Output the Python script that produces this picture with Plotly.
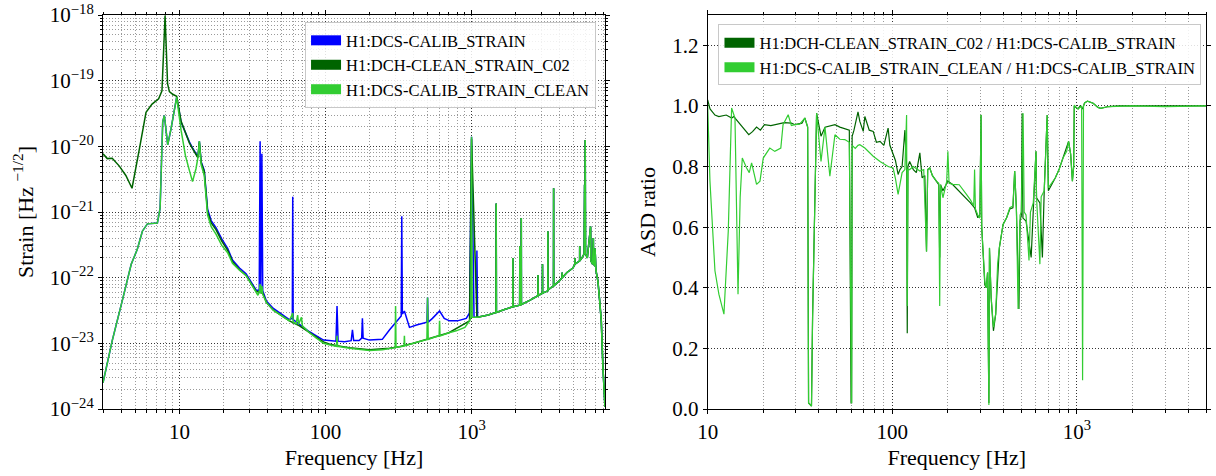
import plotly.graph_objects as go

# ---------------- data ----------------
# shared high-frequency part (all three ASDs coincide above ~1.1 kHz)
hf_freq = [1100, 1300, 1470, 1475, 1480, 1700, 1915, 1919, 1923, 2024, 2135, 2140, 2145, 2185, 2190, 2195,
           2500, 2845, 2850, 2855, 2923, 3055, 3060, 3065, 3330, 3333, 3336, 3640, 3646, 3652, 4000, 4165,
           4170, 4175, 4500, 4940, 5095, 5100, 5105, 5495, 5500, 5505, 5700, 5900, 5940, 5960, 6000, 6030,
           6200, 6530, 6560, 6740, 6820, 6850, 7000, 7010, 7100, 7330, 7530, 7730, 7930, 8192]
hf_asd = [2.5e-23, 2.7e-23, 2.95e-23, 1.35e-21, 2.95e-23, 3.3e-23, 3.6e-23, 2.0e-22, 3.6e-23, 3.7e-23, 3.8e-23,
          3.0e-22, 3.8e-23, 3.9e-23, 8.1e-22, 3.9e-23, 4.5e-23, 5.3e-23, 1.1e-22, 5.3e-23, 5.5e-23, 5.8e-23,
          1.6e-22, 5.8e-23, 6.3e-23, 5.1e-22, 6.5e-23, 7.5e-23, 2.3e-21, 7.5e-23, 9.0e-23, 1.0e-22, 1.2e-22,
          1.0e-22, 1.2e-22, 1.4e-22, 1.6e-22, 2.0e-22, 1.6e-22, 1.8e-22, 3.0e-22, 1.8e-22, 2.0e-22, 2.3e-22,
          2.6e-21, 2.3e-22, 1.25e-20, 2.3e-22, 2.0e-22, 6.0e-22, 1.8e-22, 1.6e-22, 4.0e-22, 1.6e-22, 1.5e-22,
          2.8e-22, 1.3e-22, 8.9e-23, 4.5e-23, 2.2e-23, 4.4e-24, 1.07e-24]

calib_freq = [3.0, 3.47, 4.07, 4.68, 5.15, 5.58, 6.04, 7.07, 7.38, 7.69, 7.89, 8.32, 8.77, 9.58, 10.27, 11.0,
              11.7, 12.3, 13.0, 13.4, 13.7, 14.1, 14.8, 15.6, 16.5, 17.8, 19.5, 21.4, 23.1, 25.8, 28.6, 31.0,
              33.5, 35.2, 35.7, 36.1, 36.7, 37.2, 39.4, 44.0, 50.7, 56.6, 59.3, 59.7, 60.1, 66.4, 77.7, 86.7,
              97, 106, 118, 120, 122, 135, 150, 153, 156, 170, 177, 179, 181, 200, 245, 274, 305, 330, 333,
              336, 347, 376, 420, 461, 495, 500, 505, 540, 604, 650, 707, 800, 920, 969, 1000, 1040, 1085,
              1088, 1092]
calib_asd = [2.5e-24, 1.1e-23, 4.5e-23, 1.6e-22, 2.7e-22, 5.1e-22, 6.6e-22, 6.8e-22, 1.14e-21, 2.35e-20,
             2.95e-20, 1.05e-20, 1.86e-20, 5.6e-20, 2.35e-20, 1.6e-20, 1.17e-20, 9.5e-21, 7.7e-21, 6.9e-21,
             1.2e-20, 5.8e-21, 4.3e-21, 1.1e-21, 7.4e-22, 5.8e-22, 3.9e-22, 2.8e-22, 1.85e-22, 1.4e-22,
             1.15e-22, 8.5e-23, 6.5e-23, 6.4e-23, 1.2e-20, 7.0e-23, 7.7e-21, 6.3e-23, 4.4e-23, 3.4e-23,
             2.7e-23, 2.3e-23, 2.4e-23, 1.7e-21, 2.3e-23, 1.95e-23, 1.5e-23, 1.3e-23, 1.12e-23, 1.1e-23,
             1.08e-23, 3.7e-23, 1.08e-23, 1.06e-23, 1.1e-23, 1.6e-23, 1.1e-23, 1.1e-23, 1.2e-23, 2.4e-23,
             1.2e-23, 1.12e-23, 1.15e-23, 1.6e-23, 2.1e-23, 2.6e-23, 8.6e-22, 2.8e-23, 3.1e-23, 1.75e-23,
             1.9e-23, 2.0e-23, 2.1e-23, 5.0e-23, 2.1e-23, 2.4e-23, 3.1e-23, 2.4e-23, 2.2e-23, 2.2e-23,
             2.4e-23, 2.9e-23, 1.4e-20, 2.5e-23, 2.5e-23, 2.6e-22, 2.5e-23]

c02_freq = [3.0, 3.21, 3.47, 3.88, 4.3, 4.74, 5.32, 5.91, 6.5, 7.21, 7.6, 7.98, 8.3, 8.54, 9.0, 9.58, 10.27,
            11.0, 11.7, 12.3, 13.0, 13.4, 13.7, 14.1, 14.8, 15.6, 16.5, 17.8, 19.5, 21.4, 23.1, 25.8, 28.6,
            31.0, 33.5, 37.2, 39.4, 44.0, 50.7, 56.6, 66.4, 77.7, 86.7, 97, 106, 120, 146, 200, 274, 321,
            400, 500, 700, 969, 1000, 1088]
c02_asd = [7.7e-21, 6.5e-21, 6.6e-21, 5.0e-21, 3.6e-21, 2.3e-21, 9.1e-21, 3.3e-20, 4.4e-20, 5.3e-20, 7.0e-20,
           9.8e-19, 9.0e-20, 6.8e-20, 6.2e-20, 5.8e-20, 2.4e-20, 1.55e-20, 1.13e-20, 9.2e-21, 7.4e-21,
           6.7e-21, 1.15e-20, 5.6e-21, 4.1e-21, 1.0e-21, 6.8e-22, 5.4e-22, 3.6e-22, 2.6e-22, 1.75e-22,
           1.32e-22, 1.08e-22, 8.0e-23, 6.2e-23, 5.8e-23, 4.2e-23, 3.2e-23, 2.6e-23, 2.2e-23, 1.85e-23,
           1.45e-23, 1.25e-23, 1.05e-23, 9.8e-24, 9.2e-24, 8.6e-24, 8.0e-24, 8.4e-24, 8.9e-24, 1.0e-23,
           1.15e-23, 1.45e-23, 2.2e-23, 1.3e-20, 2.5e-23]

clean_freq = [3.0, 3.47, 4.07, 4.68, 5.15, 5.58, 6.04, 7.07, 7.38, 7.69, 7.89, 8.32, 8.77, 9.58, 10.27, 11.0,
              11.7, 12.3, 13.0, 13.4, 13.7, 14.1, 14.8, 15.6, 16.5, 17.8, 19.5, 21.4, 23.1, 25.8, 28.6, 31.0,
              33.5, 34.5, 35.2, 35.7, 36.1, 36.7, 37.2, 39.4, 44.0, 50.7, 56.6, 59.7, 60.1, 63.0, 64.5, 65.5,
              68.5, 69.5, 77.7, 86.7, 97, 106, 119, 120, 121, 146, 200, 245, 274, 300, 302, 304, 321, 345,
              347, 349, 400, 461, 495, 500, 505, 560, 600, 604, 608, 700, 785, 900, 969, 990, 1000, 1010, 1088]
clean_asd = [2.5e-24, 1.1e-23, 4.5e-23, 1.6e-22, 2.7e-22, 5.1e-22, 6.6e-22, 6.8e-22, 1.14e-21, 2.35e-20,
             2.95e-20, 1.05e-20, 1.86e-20, 5.6e-20, 1.76e-20, 7.2e-21, 4.3e-21, 2.9e-21, 4.6e-21, 6.8e-21,
             1.2e-20, 5.2e-21, 3.6e-21, 9.0e-22, 6.0e-22, 4.6e-22, 3.1e-22, 2.4e-22, 1.65e-22, 1.3e-22,
             1.08e-22, 8.0e-23, 6.2e-23, 5.4e-23, 6.0e-23, 8.0e-23, 5.8e-23, 7.5e-23, 5.6e-23, 4.2e-23,
             3.2e-23, 2.6e-23, 2.2e-23, 2.9e-23, 2.1e-23, 2.0e-23, 2.7e-23, 1.95e-23, 2.5e-23, 1.85e-23,
             1.45e-23, 1.2e-23, 1.0e-23, 9.5e-24, 9.0e-24, 1.3e-23, 9.0e-24, 8.4e-24, 7.8e-24, 8.0e-24,
             8.4e-24, 8.6e-24, 3.7e-23, 8.7e-24, 8.9e-24, 9.1e-24, 1.3e-23, 9.2e-24, 1.0e-23, 1.1e-23,
             1.15e-23, 5.0e-23, 1.15e-23, 1.25e-23, 1.3e-23, 2.2e-23, 1.3e-23, 1.45e-23, 1.55e-23, 1.75e-23,
             2.2e-23, 2.5e-23, 1.4e-20, 2.5e-23, 2.5e-23]

ratio_c02_freq = [10.0, 10.3, 10.95, 11.5, 12.6, 13.5, 13.85, 14.5, 15.5, 16.7, 17.5, 18.4, 19.3, 20.3, 22, 24.4,
                  26, 28.4, 29.7, 32.4, 33.6, 34.8, 35.2, 36.5, 37.0, 38.9, 40, 41.1, 43.2, 45.9, 48.9, 52,
                  55.3, 58.5, 59.8, 60.2, 60.6, 62, 65.2, 66.7, 69.6, 71, 75, 78.8, 82, 85.8, 90, 94.9, 97,
                  101, 104, 107.5, 110, 113, 117, 119.5, 120.5, 121.5, 124.1, 130, 135, 141, 145, 150, 153.2,
                  155.5, 159.5, 165, 173.5, 178.5, 180.6, 182.5, 188, 200, 212.8, 230.4, 251, 265, 279, 290.5,
                  298, 302.4, 305, 311, 317, 323, 328, 333.5, 336, 343, 353, 363, 372, 380, 398, 416, 433, 450,
                  460, 470, 485, 492, 500, 505, 510, 530, 565, 580, 600, 604, 630, 650, 665, 690, 700, 764,
                  800, 840, 901, 925, 945, 960, 967, 990, 1014, 1040, 1073, 1100, 1141, 1224, 1300, 1346,
                  1480, 1700, 2000, 3000, 4000, 5000]
ratio_c02 = [1.02, 0.99, 0.97, 0.965, 0.97, 0.96, 0.965, 0.95, 0.93, 0.905, 0.915, 0.93, 0.92, 0.938, 0.935,
             0.94, 0.945, 0.943, 0.938, 0.943, 0.96, 0.93, 0.02, 0.01, 0.3, 0.976, 0.94, 0.9, 0.93, 0.935,
             0.938, 0.93, 0.925, 0.92, 0.02, 0.02, 0.9, 0.92, 0.98, 0.949, 0.916, 0.965, 0.92, 0.916, 0.88,
             0.883, 0.87, 0.927, 0.87, 0.839, 0.82, 0.774, 0.79, 0.8, 0.92, 0.8, 0.25, 0.8, 0.817, 0.79, 0.78,
             0.845, 0.763, 0.77, 0.52, 0.79, 0.795, 0.77, 0.752, 0.74, 0.5, 0.74, 0.72, 0.752, 0.74, 0.719,
             0.697, 0.68, 0.664, 0.631, 0.64, 0.97, 0.6, 0.51, 0.41, 0.4, 0.45, 0.02, 0.53, 0.368, 0.258,
             0.313, 0.45, 0.532, 0.609, 0.631, 0.66, 0.664, 0.785, 0.66, 0.33, 0.62, 0.64, 0.976, 0.63, 0.62,
             0.5, 0.66, 0.85, 0.697, 0.68, 0.5, 0.72, 0.97, 0.72, 0.763, 0.79, 0.828, 0.883, 0.84, 0.752, 0.8,
             1.0, 0.995, 0.99, 1.0, 0.99, 1.01, 1.016, 1.009, 0.995, 0.992, 0.998, 1.0, 1.0, 1.0, 1.0, 1.0]

ratio_clean_freq = [10.0, 10.29, 10.95, 11.5, 12.25, 12.93, 13.48, 14.06, 14.3, 14.6, 15.0, 15.4, 16.25, 16.8,
                    17.3, 18.0, 18.4, 19.2, 20.0, 21.7, 23.1, 24.9, 25.6, 27.3, 28.4, 29.7, 31.5, 33.6, 34.8,
                    35.2, 36.5, 37.0, 38.9, 41.1, 43.2, 45.9, 48.9, 52, 55.3, 58.5, 59.8, 60.2, 60.6, 63,
                    65.2, 66.7, 71, 75, 78.8, 85.8, 90, 94.9, 101, 104, 107.5, 111, 113, 117, 119.5, 120.5,
                    121.5, 124.1, 130, 141, 148, 153.2, 155.5, 159.5, 165, 173.5, 178.5, 180.6, 182.5, 188,
                    197, 200, 203, 212.8, 230.4, 251, 265, 276, 279, 282, 290.5, 298, 302.4, 305, 311, 317,
                    323, 328, 333.5, 336, 343, 353, 363, 372, 380, 398, 416, 433, 450, 460, 470, 480, 492,
                    500, 511, 518, 530, 550, 560, 580, 600, 604, 630, 640, 665, 690, 700, 764, 800, 840, 880,
                    901, 925, 945, 960, 967, 990, 1014, 1060, 1073, 1085, 1100, 1141, 1224, 1300, 1346, 1480,
                    1700, 2000, 3000, 4000, 5000]
ratio_clean = [1.004, 0.752, 0.456, 0.379, 0.313, 0.587, 0.993, 0.96, 0.7, 0.379, 0.7, 0.828, 0.795, 0.78,
               0.812, 0.76, 0.741, 0.752, 0.828, 0.861, 0.85, 0.861, 0.938, 0.971, 0.935, 0.938, 0.94, 0.96,
               0.93, 0.02, 0.01, 0.3, 0.976, 0.817, 0.93, 0.768, 0.905, 0.89, 0.889, 0.88, 0.02, 0.02, 0.87,
               0.86, 0.87, 0.872, 0.861, 0.845, 0.834, 0.817, 0.81, 0.8, 0.795, 0.76, 0.708, 0.75, 0.78, 0.79,
               0.97, 0.34, 0.79, 0.79, 0.8, 0.785, 0.79, 0.52, 0.79, 0.795, 0.77, 0.752, 0.745, 0.34, 0.74,
               0.697, 0.75, 0.85, 0.745, 0.741, 0.74, 0.71, 0.69, 0.67, 0.79, 0.66, 0.64, 0.63, 0.971, 0.6,
               0.52, 0.42, 0.4, 0.45, 0.013, 0.532, 0.368, 0.27, 0.313, 0.48, 0.532, 0.609, 0.631, 0.664,
               0.67, 0.785, 0.66, 0.33, 0.64, 0.65, 0.976, 0.65, 0.64, 0.49, 0.65, 0.68, 0.85, 0.7, 0.478,
               0.7, 0.72, 0.97, 0.73, 0.763, 0.79, 0.828, 0.85, 0.883, 0.84, 0.752, 0.8, 1.003, 0.995, 0.99,
               1.0, 0.095, 1.0, 1.01, 1.016, 1.009, 0.995, 0.992, 0.998, 1.0, 1.0, 0.998, 1.0, 1.0]

asd_labels = ["H1:DCS-CALIB_STRAIN", "H1:DCH-CLEAN_STRAIN_C02", "H1:DCS-CALIB_STRAIN_CLEAN"]
ratio_labels = ["H1:DCH-CLEAN_STRAIN_C02 / H1:DCS-CALIB_STRAIN",
                "H1:DCS-CALIB_STRAIN_CLEAN / H1:DCS-CALIB_STRAIN"]
asd_colors = ["#0000ff", "#006400", "#32cd32"]
ratio_colors = ["#006400", "#32cd32"]

# ---------------- figure ----------------
FONT = "Liberation Serif"
fig = go.Figure()

asd_sets = [(calib_freq + hf_freq, calib_asd + hf_asd),
            (c02_freq + hf_freq, c02_asd + hf_asd),
            (clean_freq + hf_freq, clean_asd + hf_asd)]
for (fx, fy), col in zip(asd_sets, asd_colors):
    fig.add_trace(go.Scatter(x=fx, y=fy, mode="lines", line=dict(color=col, width=1.5),
                             showlegend=False, xaxis="x", yaxis="y", hoverinfo="skip"))
for (fx, fy), col in zip([(ratio_c02_freq, ratio_c02), (ratio_clean_freq, ratio_clean)], ratio_colors):
    fig.add_trace(go.Scatter(x=fx, y=fy, mode="lines", line=dict(color=col, width=1.2),
                             showlegend=False, xaxis="x2", yaxis="y2", hoverinfo="skip"))

# legend-only entries (rectangular patches)
for lab, col in zip(asd_labels, asd_colors):
    fig.add_trace(go.Scatter(x=[None], y=[None], mode="lines", name=lab, line=dict(color=col, width=12),
                             xaxis="x", yaxis="y", legend="legend"))
for lab, col in zip(ratio_labels, ratio_colors):
    fig.add_trace(go.Scatter(x=[None], y=[None], mode="lines", name=lab, line=dict(color=col, width=12),
                             xaxis="x2", yaxis="y2", legend="legend2"))

minor_x1 = [k * 10 ** n for n in range(0, 4) for k in range(2, 10)]
minor_y1 = [k * 10.0 ** n for n in range(-24, -18) for k in range(2, 10)]

grid_major = dict(showgrid=True, gridcolor="#333333", gridwidth=0.8, griddash="1px,2px")
minor_style = dict(ticks="outside", ticklen=2.5, tickcolor="black", showgrid=True,
                   gridcolor="#9a9a9a", gridwidth=0.8, griddash="1px,2px")
axis_common = dict(showline=True, linecolor="black", linewidth=1, mirror="ticks", ticks="outside",
                   ticklen=4, tickcolor="black", zeroline=False, automargin=False,
                   ticklabeloverflow="allow",
                   tickfont=dict(family=FONT, size=21, color="black"))
title_font = dict(family=FONT, size=22, color="black")

fig.update_layout(
    width=1216, height=476,
    margin=dict(l=103, r=10, t=15, b=67),
    paper_bgcolor="white", plot_bgcolor="white",
    font=dict(family=FONT, color="black"),
    xaxis=dict(domain=[0, 0.4551], type="log", range=[0.4771, 3.9134],
               tickmode="array", tickvals=[10, 100, 1000], ticktext=["10", "100", "10<sup>3</sup>"],
               minor=dict(tickmode="array", tickvals=minor_x1, **minor_style),
               title=dict(text="Frequency [Hz]", font=title_font, standoff=6),
               anchor="y", **grid_major, **axis_common),
    yaxis=dict(domain=[0, 1], type="log", range=[-24, -18],
               tickmode="array", tickvals=[10.0 ** e for e in range(-24, -17)],
               ticktext=["10<sup>−%d</sup>" % (-e) for e in range(-24, -17)],
               minor=dict(tickmode="array", tickvals=minor_y1, **minor_style),
               title=dict(text="Strain [Hz <sup>−1/2</sup>]", font=title_font, standoff=10),
               anchor="x", **grid_major, **axis_common),
    xaxis2=dict(domain=[0.5482, 1], type="log", range=[1, 3.69897],
                tickmode="array", tickvals=[10, 100, 1000], ticktext=["10", "100", "10<sup>3</sup>"],
                minor=dict(tickmode="array", tickvals=minor_x1, **minor_style),
                title=dict(text="Frequency [Hz]", font=title_font, standoff=6),
                anchor="y2", **grid_major, **axis_common),
    yaxis2=dict(domain=[0, 1], range=[0, 1.3], tickmode="array",
                tickvals=[0, 0.2, 0.4, 0.6, 0.8, 1.0, 1.2],
                ticktext=["0.0", "0.2", "0.4", "0.6", "0.8", "1.0", "1.2"],
                title=dict(text="ASD ratio", font=title_font, standoff=10),
                anchor="x2", **grid_major, **axis_common),
    legend=dict(x=0.447, y=0.982, xanchor="right", yanchor="top",
                bgcolor="rgba(255,255,255,0.85)", bordercolor="#c8c8c8", borderwidth=1,
                font=dict(family=FONT, size=16.5, color="black"), tracegroupgap=0, itemwidth=30),
    legend2=dict(x=0.558, y=0.976, xanchor="left", yanchor="top",
                 bgcolor="rgba(255,255,255,0.85)", bordercolor="#c8c8c8", borderwidth=1,
                 font=dict(family=FONT, size=16.5, color="black"), tracegroupgap=0, itemwidth=30),
)

fig.write_html("out.html")
